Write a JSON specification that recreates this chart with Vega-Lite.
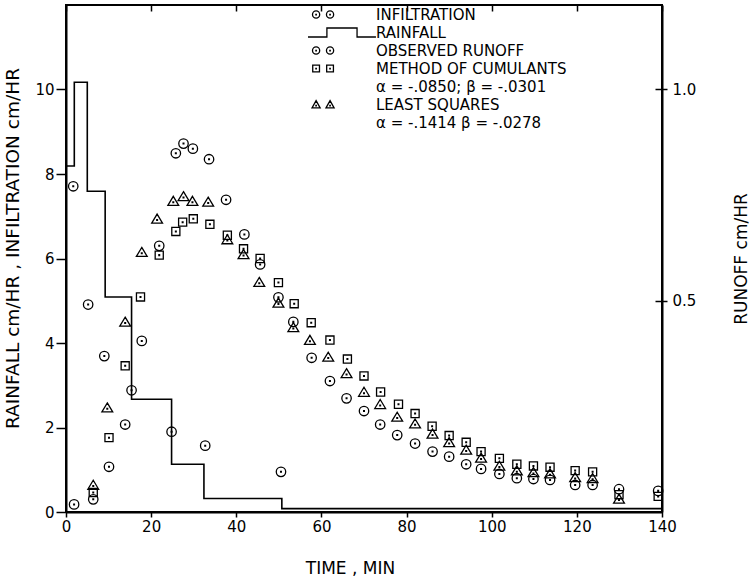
{
  "$schema": "https://vega.github.io/schema/vega-lite/v6.json",
  "width": 596,
  "height": 507,
  "autosize": {"type": "none"},
  "padding": {"left": 66, "top": 5, "right": 88, "bottom": 65},
  "background": "white",
  "config": {
    "view": {"stroke": "black", "strokeWidth": 2},
    "font": "DejaVu Sans",
    "axis": {
      "domainColor": "black", "domainWidth": 2, "tickColor": "black", "tickWidth": 1.5,
      "labelColor": "black", "titleColor": "black", "labelFont": "DejaVu Sans", "titleFont": "DejaVu Sans",
      "labelFontSize": 15, "titleFontSize": 17, "titleFontWeight": "normal", "grid": false
    },
    "legend": {
      "labelFont": "DejaVu Sans", "labelFontSize": 15, "labelColor": "black", "labelLimit": 400,
      "symbolSize": 81, "symbolStrokeWidth": 1.3, "symbolStrokeColor": "black", "symbolFillColor": "transparent", "symbolOpacity": 1,
      "rowPadding": 2, "labelOffset": 2, "padding": 0
    }
  },
  "data": {
    "values": [
      {"series": "RAINFALL", "t": 0, "value": 8.19},
      {"series": "RAINFALL", "t": 1.95, "value": 10.17},
      {"series": "RAINFALL", "t": 5.0, "value": 7.59},
      {"series": "RAINFALL", "t": 9.2, "value": 5.09},
      {"series": "RAINFALL", "t": 15.4, "value": 2.67},
      {"series": "RAINFALL", "t": 24.8, "value": 1.13},
      {"series": "RAINFALL", "t": 32.4, "value": 0.32},
      {"series": "RAINFALL", "t": 50.7, "value": 0.08},
      {"series": "RAINFALL", "t": 140, "value": 0.08},

      {"series": "INFILTRATION", "t": 1.7, "value": 7.71},
      {"series": "INFILTRATION", "t": 5.2, "value": 4.91},
      {"series": "INFILTRATION", "t": 9.0, "value": 3.69},
      {"series": "INFILTRATION", "t": 15.4, "value": 2.88},
      {"series": "INFILTRATION", "t": 24.8, "value": 1.90},
      {"series": "INFILTRATION", "t": 32.7, "value": 1.57},
      {"series": "INFILTRATION", "t": 50.5, "value": 0.95},

      {"series": "OBSERVED RUNOFF", "t": 1.9, "value": 0.018},
      {"series": "OBSERVED RUNOFF", "t": 6.4, "value": 0.030},
      {"series": "OBSERVED RUNOFF", "t": 10.1, "value": 0.107},
      {"series": "OBSERVED RUNOFF", "t": 13.9, "value": 0.207},
      {"series": "OBSERVED RUNOFF", "t": 17.8, "value": 0.405},
      {"series": "OBSERVED RUNOFF", "t": 21.9, "value": 0.630},
      {"series": "OBSERVED RUNOFF", "t": 25.8, "value": 0.849},
      {"series": "OBSERVED RUNOFF", "t": 27.6, "value": 0.872},
      {"series": "OBSERVED RUNOFF", "t": 29.8, "value": 0.860},
      {"series": "OBSERVED RUNOFF", "t": 33.6, "value": 0.835},
      {"series": "OBSERVED RUNOFF", "t": 37.6, "value": 0.739},
      {"series": "OBSERVED RUNOFF", "t": 41.9, "value": 0.657},
      {"series": "OBSERVED RUNOFF", "t": 45.6, "value": 0.586},
      {"series": "OBSERVED RUNOFF", "t": 49.9, "value": 0.508},
      {"series": "OBSERVED RUNOFF", "t": 53.4, "value": 0.450},
      {"series": "OBSERVED RUNOFF", "t": 57.7, "value": 0.365},
      {"series": "OBSERVED RUNOFF", "t": 62.0, "value": 0.310},
      {"series": "OBSERVED RUNOFF", "t": 65.9, "value": 0.269},
      {"series": "OBSERVED RUNOFF", "t": 70.0, "value": 0.239},
      {"series": "OBSERVED RUNOFF", "t": 73.8, "value": 0.207},
      {"series": "OBSERVED RUNOFF", "t": 77.8, "value": 0.182},
      {"series": "OBSERVED RUNOFF", "t": 82.0, "value": 0.162},
      {"series": "OBSERVED RUNOFF", "t": 86.1, "value": 0.143},
      {"series": "OBSERVED RUNOFF", "t": 90.0, "value": 0.131},
      {"series": "OBSERVED RUNOFF", "t": 94.0, "value": 0.113},
      {"series": "OBSERVED RUNOFF", "t": 97.5, "value": 0.102},
      {"series": "OBSERVED RUNOFF", "t": 101.8, "value": 0.090},
      {"series": "OBSERVED RUNOFF", "t": 105.9, "value": 0.080},
      {"series": "OBSERVED RUNOFF", "t": 109.8, "value": 0.078},
      {"series": "OBSERVED RUNOFF", "t": 113.7, "value": 0.076},
      {"series": "OBSERVED RUNOFF", "t": 119.6, "value": 0.064},
      {"series": "OBSERVED RUNOFF", "t": 123.7, "value": 0.064},
      {"series": "OBSERVED RUNOFF", "t": 129.9, "value": 0.054},
      {"series": "OBSERVED RUNOFF", "t": 139.1, "value": 0.050},

      {"series": "METHOD OF CUMULANTS", "t": 6.4, "value": 0.046},
      {"series": "METHOD OF CUMULANTS", "t": 10.1, "value": 0.176},
      {"series": "METHOD OF CUMULANTS", "t": 13.9, "value": 0.346},
      {"series": "METHOD OF CUMULANTS", "t": 17.5, "value": 0.509},
      {"series": "METHOD OF CUMULANTS", "t": 21.9, "value": 0.608},
      {"series": "METHOD OF CUMULANTS", "t": 25.8, "value": 0.664},
      {"series": "METHOD OF CUMULANTS", "t": 27.4, "value": 0.686},
      {"series": "METHOD OF CUMULANTS", "t": 29.9, "value": 0.694},
      {"series": "METHOD OF CUMULANTS", "t": 33.8, "value": 0.681},
      {"series": "METHOD OF CUMULANTS", "t": 37.9, "value": 0.655},
      {"series": "METHOD OF CUMULANTS", "t": 41.7, "value": 0.623},
      {"series": "METHOD OF CUMULANTS", "t": 45.6, "value": 0.600},
      {"series": "METHOD OF CUMULANTS", "t": 49.9, "value": 0.543},
      {"series": "METHOD OF CUMULANTS", "t": 53.6, "value": 0.493},
      {"series": "METHOD OF CUMULANTS", "t": 57.6, "value": 0.448},
      {"series": "METHOD OF CUMULANTS", "t": 62.0, "value": 0.407},
      {"series": "METHOD OF CUMULANTS", "t": 66.1, "value": 0.362},
      {"series": "METHOD OF CUMULANTS", "t": 70.0, "value": 0.322},
      {"series": "METHOD OF CUMULANTS", "t": 73.9, "value": 0.284},
      {"series": "METHOD OF CUMULANTS", "t": 78.1, "value": 0.255},
      {"series": "METHOD OF CUMULANTS", "t": 82.0, "value": 0.233},
      {"series": "METHOD OF CUMULANTS", "t": 86.0, "value": 0.203},
      {"series": "METHOD OF CUMULANTS", "t": 90.0, "value": 0.181},
      {"series": "METHOD OF CUMULANTS", "t": 94.0, "value": 0.165},
      {"series": "METHOD OF CUMULANTS", "t": 97.5, "value": 0.143},
      {"series": "METHOD OF CUMULANTS", "t": 101.8, "value": 0.127},
      {"series": "METHOD OF CUMULANTS", "t": 105.9, "value": 0.113},
      {"series": "METHOD OF CUMULANTS", "t": 109.8, "value": 0.109},
      {"series": "METHOD OF CUMULANTS", "t": 113.7, "value": 0.106},
      {"series": "METHOD OF CUMULANTS", "t": 119.6, "value": 0.098},
      {"series": "METHOD OF CUMULANTS", "t": 123.7, "value": 0.095},
      {"series": "METHOD OF CUMULANTS", "t": 129.9, "value": 0.041},
      {"series": "METHOD OF CUMULANTS", "t": 139.1, "value": 0.037},

      {"series": "LEAST SQUARES", "t": 6.4, "value": 0.064},
      {"series": "LEAST SQUARES", "t": 9.7, "value": 0.247},
      {"series": "LEAST SQUARES", "t": 13.9, "value": 0.450},
      {"series": "LEAST SQUARES", "t": 17.8, "value": 0.615},
      {"series": "LEAST SQUARES", "t": 21.4, "value": 0.694},
      {"series": "LEAST SQUARES", "t": 25.2, "value": 0.736},
      {"series": "LEAST SQUARES", "t": 27.6, "value": 0.747},
      {"series": "LEAST SQUARES", "t": 29.7, "value": 0.736},
      {"series": "LEAST SQUARES", "t": 33.4, "value": 0.734},
      {"series": "LEAST SQUARES", "t": 37.9, "value": 0.645},
      {"series": "LEAST SQUARES", "t": 41.7, "value": 0.610},
      {"series": "LEAST SQUARES", "t": 45.4, "value": 0.544},
      {"series": "LEAST SQUARES", "t": 49.9, "value": 0.495},
      {"series": "LEAST SQUARES", "t": 53.4, "value": 0.437},
      {"series": "LEAST SQUARES", "t": 57.3, "value": 0.407},
      {"series": "LEAST SQUARES", "t": 61.6, "value": 0.367},
      {"series": "LEAST SQUARES", "t": 65.9, "value": 0.328},
      {"series": "LEAST SQUARES", "t": 70.0, "value": 0.284},
      {"series": "LEAST SQUARES", "t": 73.8, "value": 0.255},
      {"series": "LEAST SQUARES", "t": 77.8, "value": 0.225},
      {"series": "LEAST SQUARES", "t": 82.0, "value": 0.209},
      {"series": "LEAST SQUARES", "t": 86.1, "value": 0.185},
      {"series": "LEAST SQUARES", "t": 90.0, "value": 0.165},
      {"series": "LEAST SQUARES", "t": 94.0, "value": 0.147},
      {"series": "LEAST SQUARES", "t": 97.5, "value": 0.128},
      {"series": "LEAST SQUARES", "t": 101.8, "value": 0.109},
      {"series": "LEAST SQUARES", "t": 105.9, "value": 0.098},
      {"series": "LEAST SQUARES", "t": 109.8, "value": 0.094},
      {"series": "LEAST SQUARES", "t": 113.7, "value": 0.091},
      {"series": "LEAST SQUARES", "t": 119.6, "value": 0.082},
      {"series": "LEAST SQUARES", "t": 123.7, "value": 0.080},
      {"series": "LEAST SQUARES", "t": 129.9, "value": 0.031}
    ]
  },
  "layer": [
    {
      "encoding": {
        "x": {"field": "t", "type": "quantitative", "scale": {"domain": [0, 140], "nice": false, "zero": false},
              "axis": {"values": [0, 20, 40, 60, 80, 100, 120, 140], "tickSize": 5, "labelPadding": 2, "title": "TIME , MIN", "titlePadding": 26, "titleX": 284, "labelFlush": false}},
        "y": {"field": "value", "type": "quantitative", "scale": {"domain": [0, 12], "nice": false},
              "axis": {"orient": "left", "values": [0, 2, 4, 6, 8, 10], "tickSize": 10, "labelPadding": 2, "title": "RAINFALL cm/HR , INFILTRATION cm/HR", "titleFontSize": 18.5, "titlePadding": 12, "titleY": 243}}
      },
      "layer": [
        {
          "transform": [{"filter": "datum.series === 'RAINFALL'"}],
          "mark": {"type": "line", "interpolate": "step-after", "color": "black", "strokeWidth": 1.6}
        },
        {
          "transform": [{"filter": "datum.series === 'INFILTRATION'"}],
          "mark": {"type": "point", "filled": false, "color": "black", "strokeWidth": 1.3, "size": 81, "opacity": 1,
                   "shape": "M-1.05,0A1.05,1.05 0 1,0 1.05,0A1.05,1.05 0 1,0 -1.05,0Z M-0.08,-0.08h0.16v0.16h-0.16Z"}
        }
      ]
    },
    {
      "transform": [{"filter": "datum.series === 'OBSERVED RUNOFF'"}],
      "mark": {"type": "point", "filled": false, "color": "black", "strokeWidth": 1.3, "size": 81, "opacity": 1,
               "shape": "M-1.05,0A1.05,1.05 0 1,0 1.05,0A1.05,1.05 0 1,0 -1.05,0Z M-0.08,-0.08h0.16v0.16h-0.16Z"},
      "encoding": {
        "x": {"field": "t", "type": "quantitative", "scale": {"domain": [0, 140], "nice": false, "zero": false},
              "axis": {"values": [0, 20, 40, 60, 80, 100, 120, 140], "tickSize": -6, "labels": false, "domain": false, "title": null}},
        "y": {"field": "value", "type": "quantitative", "scale": {"domain": [0, 1.2], "nice": false},
              "axis": {"orient": "right", "values": [0.5, 1.0], "format": ".1f", "tickSize": 5, "labelPadding": 5, "title": "RUNOFF   cm/HR", "titleAngle": 270, "titleBaseline": "top", "titlePadding": 38}}
      }
    },
    {
      "transform": [{"filter": "datum.series === 'METHOD OF CUMULANTS'"}],
      "mark": {"type": "point", "filled": false, "color": "black", "strokeWidth": 1.3, "size": 81, "opacity": 1,
               "shape": "M-0.9,-0.9H0.9V0.9H-0.9Z M-0.08,-0.08h0.16v0.16h-0.16Z"},
      "encoding": {
        "x": {"field": "t", "type": "quantitative", "scale": {"domain": [0, 140], "nice": false, "zero": false}, "axis": null},
        "y": {"field": "value", "type": "quantitative", "scale": {"domain": [0, 1.2], "nice": false},
              "axis": {"orient": "right", "values": [0.5, 1.0], "tickSize": -7, "labels": false, "domain": false, "title": null}}
      }
    },
    {
      "transform": [{"filter": "datum.series === 'LEAST SQUARES'"}],
      "mark": {"type": "point", "filled": false, "color": "black", "strokeWidth": 1.3, "size": 81, "opacity": 1,
               "shape": "M0,-1.05L1.2,0.95L-1.2,0.95Z M-0.08,0.17h0.16v0.16h-0.16Z"},
      "encoding": {
        "x": {"field": "t", "type": "quantitative", "scale": {"domain": [0, 140], "nice": false, "zero": false}, "axis": null},
        "y": {"field": "value", "type": "quantitative", "scale": {"domain": [0, 1.2], "nice": false}, "axis": null}
      }
    },
    {
      "mark": {"type": "point", "filled": false, "color": "black", "strokeWidth": 1.3, "size": 81, "opacity": 0},
      "encoding": {
        "x": {"field": "t", "type": "quantitative", "scale": {"domain": [0, 140], "nice": false, "zero": false}, "axis": null},
        "y": {"field": "value", "type": "quantitative", "scale": {"domain": [0, 12], "nice": false}, "axis": null},
        "shape": {"field": "series", "type": "nominal",
          "scale": {
            "domain": ["INFILTRATION", "RAINFALL", "OBSERVED RUNOFF", "METHOD OF CUMULANTS", "α = -.0850;  β = -.0301", "LEAST SQUARES", "α = -.1414   β = -.0278"],
            "range": [
              "M-12,0A0.8,0.8 0 1,0 -10.4,0A0.8,0.8 0 1,0 -12,0Z M-11.25,-0.05h0.1v0.1h-0.1Z M-8.9,0A0.8,0.8 0 1,0 -7.3,0A0.8,0.8 0 1,0 -8.9,0Z M-8.15,-0.05h0.1v0.1h-0.1Z",
              "M-13,1H-8.8V-1H-2.1V1H2.1",
              "M-12,0A0.8,0.8 0 1,0 -10.4,0A0.8,0.8 0 1,0 -12,0Z M-11.25,-0.05h0.1v0.1h-0.1Z M-8.9,0A0.8,0.8 0 1,0 -7.3,0A0.8,0.8 0 1,0 -8.9,0Z M-8.15,-0.05h0.1v0.1h-0.1Z",
              "M-11.95,-0.75h1.5v1.5h-1.5Z M-11.25,-0.05h0.1v0.1h-0.1Z M-8.85,-0.75h1.5v1.5h-1.5Z M-8.15,-0.05h0.1v0.1h-0.1Z",
              "M0,0",
              "M-11.2,-0.85L-10.3,0.75L-12.1,0.75Z M-11.25,0.2h0.1v0.1h-0.1Z M-8.1,-0.85L-7.2,0.75L-9,0.75Z M-8.15,0.2h0.1v0.1h-0.1Z",
              "M0,0"
            ]
          },
          "legend": {"title": null, "orient": "none", "legendX": 293, "legendY": 2, "symbolOpacity": 1}
        }
      }
    }
  ],
  "resolve": {"scale": {"y": "independent"}, "axis": {"x": "independent", "y": "independent"}}
}
